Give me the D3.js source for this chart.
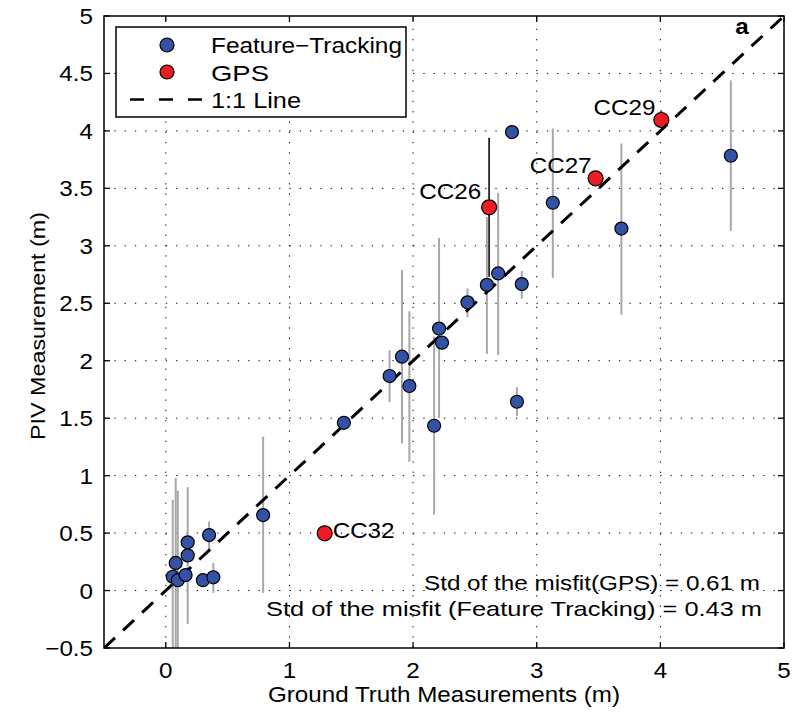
<!DOCTYPE html>
<html><head><meta charset="utf-8">
<script src="https://cdn.jsdelivr.net/npm/d3@7"></script>
<style>body{margin:0;background:#fff}svg{display:block}text{font-family:"Liberation Sans",Arial,sans-serif}</style>
</head><body>
<svg id="c" width="793" height="713"></svg>
<script>
// ---- data ----
const xTicks = [0, 1, 2, 3, 4, 5];
const yTicks = [-0.5, 0, 0.5, 1, 1.5, 2, 2.5, 3, 3.5, 4, 4.5, 5];
const yTickLabels = ["\u22120.5","0","0.5","1","1.5","2","2.5","3","3.5","4","4.5","5"];
const ftX  = [0.056,0.08,0.097,0.16,0.177,0.177,0.30,0.35,0.384,0.787,1.44,1.81,1.91,1.97,2.17,2.21,2.234,2.44,2.597,2.688,2.80,2.84,2.879,3.13,3.685,4.57];
const ftY  = [0.12,0.24,0.09,0.135,0.42,0.306,0.09,0.483,0.115,0.657,1.46,1.867,2.035,1.78,1.434,2.28,2.157,2.508,2.66,2.76,3.99,1.643,2.667,3.375,3.15,3.784];
const ftLo = [-0.6,-0.6,-0.6,null,-0.29,null,null,0.36,-0.02,-0.02,1.40,1.64,1.28,1.12,0.66,1.50,null,2.38,2.06,2.05,null,1.52,2.54,2.72,2.40,3.13];
const ftHi = [0.79,0.98,0.87,null,0.90,null,null,0.60,0.24,1.34,1.52,2.09,2.79,2.43,2.21,3.07,null,2.63,3.25,3.46,null,1.77,2.78,4.02,3.89,4.44];
const gpsNames = ["CC26","CC27","CC29","CC32"];
const gpsX  = [2.615,3.476,4.008,1.285];
const gpsY  = [3.335,3.587,4.095,0.498];
const gpsLo = [2.73,null,4.05,0.43];
const gpsHi = [3.94,null,4.18,0.56];
const legendLabels = ["Feature\u2212Tracking","GPS","1:1 Line"];
const stdLines = ["Std of the misfit(GPS) = 0.61 m","Std of the misfit (Feature Tracking) = 0.43 m"];

// ---- layout ----
const svg = d3.select("#c");
const L = 104, R = 784, T = 16, B = 648;
const x = d3.scaleLinear().domain([-0.5, 5]).range([L, R]);
const y = d3.scaleLinear().domain([-0.5, 5]).range([B, T]);
const SX = 1.1;
const BLUE = "#3352a6", RED = "#ec1c24", GRAY = "#a8a8a8";

svg.append("defs").append("clipPath").attr("id","clip")
  .append("rect").attr("x",L).attr("y",T).attr("width",R-L).attr("height",B-T);

function stext(g, str, px, py, size, anchor, weight){
  return g.append("text").attr("transform",`translate(${px},${py}) scale(${SX},1)`)
    .attr("font-size",size).attr("text-anchor",anchor||"start")
    .attr("font-weight",weight||"normal").attr("fill","#000").text(str);
}

// grid
const grid = svg.append("g").attr("stroke","#000").attr("stroke-width",1).attr("stroke-dasharray","1.3,9");
grid.selectAll(".gx").data(xTicks.slice(0,-1)).join("line")
  .attr("x1",d=>x(d)).attr("x2",d=>x(d)).attr("y1",B).attr("y2",T);
grid.selectAll(".gy").data(yTicks.slice(1,-1)).join("line")
  .attr("y1",d=>y(d)).attr("y2",d=>y(d)).attr("x1",L).attr("x2",R);

const plot = svg.append("g").attr("clip-path","url(#clip)");

// error bars
const ftIdx = d3.range(ftX.length).filter(i => ftLo[i] !== null);
plot.append("g").selectAll("line").data(ftIdx).join("line")
  .attr("x1",i=>x(ftX[i])).attr("x2",i=>x(ftX[i]))
  .attr("y1",i=>y(ftLo[i])).attr("y2",i=>y(ftHi[i]))
  .attr("stroke",GRAY).attr("stroke-width",2);
const gIdx = d3.range(gpsX.length).filter(i => gpsLo[i] !== null);
plot.append("g").selectAll("line").data(gIdx).join("line")
  .attr("x1",i=>x(gpsX[i])).attr("x2",i=>x(gpsX[i]))
  .attr("y1",i=>y(gpsLo[i])).attr("y2",i=>y(gpsHi[i]))
  .attr("stroke",(i)=> i===0 ? "#222" : "#555").attr("stroke-width",1.8);

// GPS points
plot.append("g").selectAll("circle").data(d3.range(gpsX.length)).join("circle")
  .attr("cx",i=>x(gpsX[i])).attr("cy",i=>y(gpsY[i])).attr("r",7.5)
  .attr("fill",RED).attr("stroke","#000").attr("stroke-width",1.2);

// 1:1 line
plot.append("line").attr("x1",x(-0.5)).attr("y1",y(-0.5)).attr("x2",x(5)).attr("y2",y(5))
  .attr("stroke","#000").attr("stroke-width",3).attr("stroke-dasharray","15,11");

// feature tracking points
plot.append("g").selectAll("circle").data(d3.range(ftX.length)).join("circle")
  .attr("cx",i=>x(ftX[i])).attr("cy",i=>y(ftY[i])).attr("r",6.5)
  .attr("fill",BLUE).attr("stroke","#000").attr("stroke-width",1.2);

// GPS labels
const lab = svg.append("g");
const labOff = {CC26:[-8,-8,"end"], CC27:[-4,-5,"end"], CC29:[-6,-5,"end"], CC32:[8,5,"start"]};
gpsNames.forEach((n,i)=>{
  const o = labOff[n];
  stext(lab, n, x(gpsX[i])+o[0], y(gpsY[i])+o[1], 22, o[2]);
});

// frame
svg.append("rect").attr("x",L).attr("y",T).attr("width",R-L).attr("height",B-T)
  .attr("fill","none").attr("stroke","#000").attr("stroke-width",1.5);

// ticks (inward, all four sides)
const tk = svg.append("g").attr("stroke","#000").attr("stroke-width",1.3);
xTicks.forEach(d=>{
  tk.append("line").attr("x1",x(d)).attr("x2",x(d)).attr("y1",B).attr("y2",B-6);
  tk.append("line").attr("x1",x(d)).attr("x2",x(d)).attr("y1",T).attr("y2",T+6);
});
yTicks.forEach(d=>{
  tk.append("line").attr("y1",y(d)).attr("y2",y(d)).attr("x1",L).attr("x2",L+6);
  tk.append("line").attr("y1",y(d)).attr("y2",y(d)).attr("x1",R).attr("x2",R-6);
});

// tick labels
const tl = svg.append("g");
xTicks.forEach(d=> stext(tl, String(d), x(d), 678, 22, "middle"));
yTicks.forEach((d,i)=> stext(tl, yTickLabels[i], 93, y(d)+8, 22, "end"));

// axis titles
svg.append("text").attr("x",(L+R)/2).attr("y",702).attr("text-anchor","middle").attr("font-size",22)
  .attr("textLength",352).attr("lengthAdjust","spacingAndGlyphs").text("Ground Truth Measurements (m)");
svg.append("text").attr("transform",`translate(45,${(T+B)/2 - 6}) rotate(-90)`)
  .attr("text-anchor","middle").attr("font-size",21)
  .attr("textLength",228).attr("lengthAdjust","spacingAndGlyphs")
  .text("PIV Measurement (m)");

// panel letter
stext(svg, "a", 742, 34, 22, "middle", "bold");

// std text
svg.append("text").attr("x",760).attr("y",590).attr("text-anchor","end").attr("font-size",21)
  .attr("textLength",336).attr("lengthAdjust","spacingAndGlyphs").text(stdLines[0]);
svg.append("text").attr("x",762).attr("y",616).attr("text-anchor","end").attr("font-size",21)
  .attr("textLength",496).attr("lengthAdjust","spacingAndGlyphs").text(stdLines[1]);

// legend
const lg = svg.append("g");
lg.append("rect").attr("x",116).attr("y",27).attr("width",290).attr("height",90)
  .attr("fill","#fff").attr("stroke","#000").attr("stroke-width",1.5);
lg.append("circle").attr("cx",167).attr("cy",45).attr("r",7).attr("fill",BLUE).attr("stroke","#000").attr("stroke-width",1.2);
lg.append("circle").attr("cx",167).attr("cy",72).attr("r",7).attr("fill",RED).attr("stroke","#000").attr("stroke-width",1.2);
lg.append("line").attr("x1",130).attr("x2",203).attr("y1",99.5).attr("y2",99.5)
  .attr("stroke","#000").attr("stroke-width",2.5).attr("stroke-dasharray","14,15");
[53,81,108].forEach((yy,i)=> lg.append("text").attr("x",211).attr("y",yy).attr("font-size",22)
  .attr("textLength",[191,58,90][i]).attr("lengthAdjust","spacingAndGlyphs").text(legendLabels[i]));
</script>
</body></html>
